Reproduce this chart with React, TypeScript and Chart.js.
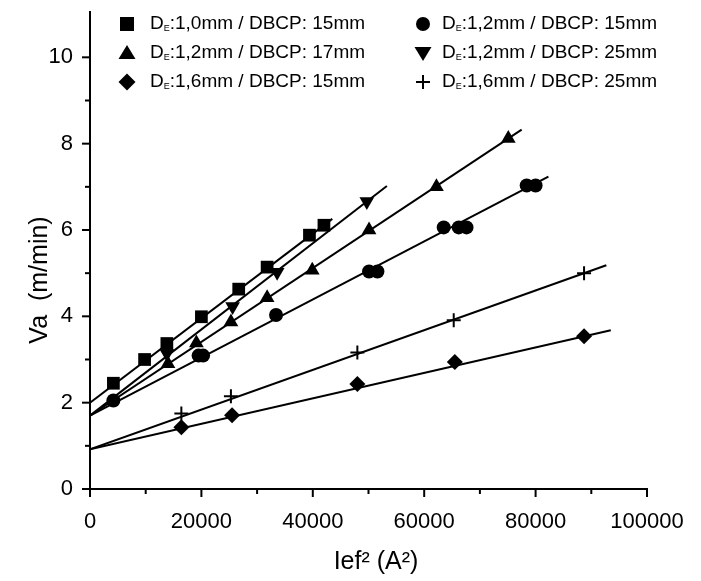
import React, { useEffect, useRef } from 'react';
import { Chart, registerables } from 'chart.js';

Chart.register(...registerables);

const FONT = "'Liberation Sans', Arial, Helvetica, sans-serif";

// Axis ticks
const xTicks = [0, 20000, 40000, 60000, 80000, 100000];
const xMinorTicks = [10000, 30000, 50000, 70000, 90000];
const yTicks = [0, 2, 4, 6, 8, 10];
const yMinorTicks = [1, 3, 5, 7, 9];

// Series labels (the part after the subscripted "D_E")
const seriesLabels = [
  ':1,0mm / DBCP: 15mm',
  ':1,2mm / DBCP: 17mm',
  ':1,6mm / DBCP: 15mm',
  ':1,2mm / DBCP: 15mm',
  ':1,2mm / DBCP: 25mm',
  ':1,6mm / DBCP: 25mm',
];

// D_E 1.0 / DBCP 15 (squares)
const sq15X = [4200, 9800, 13800, 20000, 26700, 31800, 39400, 42000];
const sq15Y = [2.45, 3.0, 3.37, 3.99, 4.63, 5.14, 5.88, 6.11];
// D_E 1.2 / DBCP 17 (up triangles)
const tri17X = [14000, 19100, 25300, 31800, 39900, 50100, 62200, 75100];
const tri17Y = [2.9, 3.38, 3.87, 4.43, 5.07, 6.0, 7.0, 8.12];
// D_E 1.6 / DBCP 15 (diamonds)
const dia15X = [16400, 25500, 48000, 65500, 88700];
const dia15Y = [1.43, 1.71, 2.43, 2.94, 3.54];
// D_E 1.2 / DBCP 15 (circles)
const circ15X = [4200, 19500, 20300, 33400, 50100, 51600, 63500, 66200, 67600, 78400, 80000];
const circ15Y = [2.05, 3.09, 3.09, 4.03, 5.04, 5.04, 6.06, 6.06, 6.06, 7.03, 7.03];
// D_E 1.2 / DBCP 25 (down triangles)
const dtri25X = [13800, 25600, 33600, 49700];
const dtri25Y = [3.14, 4.23, 5.02, 6.66];
// D_E 1.6 / DBCP 25 (plus)
const plus25X = [16400, 25300, 48000, 65300, 88700];
const plus25Y = [1.75, 2.15, 3.16, 3.91, 5.0];

// Linear fits: intercept, slope, x end of drawn line
const fitIntercept = [2.0, 1.7, 0.92, 1.7, 1.7, 0.92];
const fitSlope = [0.0000979, 0.0000855, 0.0000295, 0.0000673, 0.0000998, 0.000046];
const fitXEnd = [43500, 77500, 93500, 82300, 53300, 92700];

const seriesX = [sq15X, tri17X, dia15X, circ15X, dtri25X, plus25X];
const seriesY = [sq15Y, tri17Y, dia15Y, circ15Y, dtri25Y, plus25Y];
const markerStyles = ['rect', 'triangle', 'rectRot', 'circle', 'triangleDown', 'cross'];
const markerRadius = [9, 8.5, 8, 7, 8.5, 7];

function drawLegendMarker(ctx: CanvasRenderingContext2D, style: string, x: number, y: number) {
  ctx.save();
  ctx.fillStyle = '#000';
  ctx.strokeStyle = '#000';
  ctx.beginPath();
  if (style === 'rect') {
    ctx.rect(x - 7, y - 7, 14, 14);
    ctx.fill();
  } else if (style === 'triangle') {
    ctx.moveTo(x, y - 8);
    ctx.lineTo(x + 8.5, y + 6);
    ctx.lineTo(x - 8.5, y + 6);
    ctx.closePath();
    ctx.fill();
  } else if (style === 'triangleDown') {
    ctx.moveTo(x, y + 8);
    ctx.lineTo(x + 8.5, y - 6);
    ctx.lineTo(x - 8.5, y - 6);
    ctx.closePath();
    ctx.fill();
  } else if (style === 'rectRot') {
    ctx.moveTo(x, y - 8.5);
    ctx.lineTo(x + 8.5, y);
    ctx.lineTo(x, y + 8.5);
    ctx.lineTo(x - 8.5, y);
    ctx.closePath();
    ctx.fill();
  } else if (style === 'circle') {
    ctx.arc(x, y, 7, 0, Math.PI * 2);
    ctx.fill();
  } else if (style === 'cross') {
    ctx.lineWidth = 2;
    ctx.moveTo(x - 7, y);
    ctx.lineTo(x + 7, y);
    ctx.moveTo(x, y - 7);
    ctx.lineTo(x, y + 7);
    ctx.stroke();
  }
  ctx.restore();
}

const legendCols = [
  { markerX: 127, textX: 150 },
  { markerX: 423, textX: 442 },
];
const legendRows = [24, 53, 82];

const decorPlugin = {
  id: 'decor',
  afterDraw(chart: any) {
    const ctx: CanvasRenderingContext2D = chart.ctx;
    const xs = chart.scales.x;
    const ys = chart.scales.y;
    const area = chart.chartArea;
    ctx.save();
    ctx.strokeStyle = '#000';
    ctx.lineWidth = 2;
    const drawX = (vals: number[], len: number) => {
      vals.forEach((v) => {
        const px = xs.getPixelForValue(v);
        ctx.beginPath();
        ctx.moveTo(px, area.bottom);
        ctx.lineTo(px, area.bottom + len);
        ctx.stroke();
      });
    };
    const drawY = (vals: number[], len: number) => {
      vals.forEach((v) => {
        const py = ys.getPixelForValue(v);
        ctx.beginPath();
        ctx.moveTo(area.left, py);
        ctx.lineTo(area.left - len, py);
        ctx.stroke();
      });
    };
    drawX(xTicks, 8);
    drawX(xMinorTicks, 5);
    drawY(yTicks, 8);
    drawY(yMinorTicks, 5);

    // axis titles
    ctx.fillStyle = '#000';
    ctx.textAlign = 'center';
    ctx.textBaseline = 'middle';
    ctx.font = `25px ${FONT}`;
    ctx.fillText('Ief\u00B2 (A\u00B2)', 376, 562);
    ctx.save();
    ctx.translate(40, 280);
    ctx.rotate(-Math.PI / 2);
    ctx.fillText('Va  (m/min)', 0, 0);
    ctx.restore();

    // legend
    ctx.textAlign = 'left';
    ctx.textBaseline = 'middle';
    for (let i = 0; i < seriesLabels.length; i++) {
      const col = legendCols[Math.floor(i / 3)];
      const y = legendRows[i % 3];
      drawLegendMarker(ctx, markerStyles[i], col.markerX, y);
      ctx.font = `19px ${FONT}`;
      ctx.fillText('D', col.textX, y);
      const dW = ctx.measureText('D').width;
      ctx.font = `9px ${FONT}`;
      ctx.fillText('E', col.textX + dW, y + 5);
      const eW = ctx.measureText('E').width;
      ctx.font = `19px ${FONT}`;
      ctx.fillText(seriesLabels[i], col.textX + dW + eW, y);
    }
    ctx.restore();
  },
};

export default function App() {
  const ref = useRef<HTMLCanvasElement | null>(null);

  useEffect(() => {
    if (!ref.current) return;
    const pointSets = seriesX.map((xa, i) => ({
      type: 'scatter' as const,
      label: 'pts' + i,
      data: xa.map((x, j) => ({ x, y: seriesY[i][j] })),
      pointStyle: markerStyles[i] === 'triangleDown' ? 'triangle' : markerStyles[i],
      rotation: markerStyles[i] === 'triangleDown' ? 180 : 0,
      pointRadius: markerRadius[i],
      pointHoverRadius: markerRadius[i],
      backgroundColor: '#000',
      borderColor: '#000',
      borderWidth: markerStyles[i] === 'cross' ? 2 : 0,
      showLine: false,
    }));
    const lineSets = fitIntercept.map((b, i) => ({
      type: 'scatter' as const,
      label: 'fit' + i,
      data: [
        { x: 0, y: b },
        { x: fitXEnd[i], y: b + fitSlope[i] * fitXEnd[i] },
      ],
      showLine: true,
      borderColor: '#000',
      borderWidth: 2,
      pointRadius: 0,
      fill: false,
    }));

    const chart = new Chart(ref.current, {
      type: 'scatter',
      data: { datasets: [...pointSets, ...lineSets] as any },
      options: {
        animation: false,
        responsive: false,
        maintainAspectRatio: false,
        events: [],
        layout: { padding: { left: 0, top: 12, right: 54, bottom: 0 } },
        plugins: {
          legend: { display: false },
          tooltip: { enabled: false },
          title: { display: false },
        },
        scales: {
          x: {
            type: 'linear',
            min: 0,
            max: 100000,
            grid: { display: false, drawTicks: false },
            border: { display: true, color: '#000', width: 2 },
            afterBuildTicks: (s: any) => {
              s.ticks = xTicks.map((v) => ({ value: v }));
            },
            afterFit: (s: any) => {
              s.height = 92;
              s.paddingLeft = 0;
              s.paddingRight = 0;
            },
            ticks: {
              padding: 20,
              color: '#000',
              font: { family: FONT, size: 22 },
              maxRotation: 0,
              callback: (v: any) => String(v),
            },
          },
          y: {
            type: 'linear',
            min: 0,
            max: 11.05,
            grid: { display: false, drawTicks: false },
            border: { display: true, color: '#000', width: 2 },
            afterBuildTicks: (s: any) => {
              s.ticks = yTicks.map((v) => ({ value: v }));
            },
            afterFit: (s: any) => {
              s.width = 90;
              s.paddingTop = 0;
              s.paddingBottom = 0;
            },
            ticks: {
              padding: 17,
              color: '#000',
              font: { family: FONT, size: 22 },
              callback: (v: any) => String(v),
            },
          },
        },
      },
      plugins: [decorPlugin],
    });
    return () => chart.destroy();
  }, []);

  return (
    <div style={{ position: 'absolute', left: 0, top: 0, width: 701, height: 581, background: '#fff' }}>
      <canvas ref={ref} width={701} height={581} style={{ width: 701, height: 581, display: 'block' }} />
    </div>
  );
}
